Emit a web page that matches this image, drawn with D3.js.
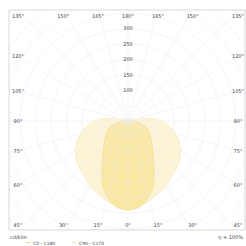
<!DOCTYPE html>
<html>
<head>
<meta charset="utf-8">
<script src="https://cdn.jsdelivr.net/npm/d3@7"></script>
<style>
  html, body { margin: 0; padding: 0; background: #fff; }
  svg { display: block; font-family: "DejaVu Sans", sans-serif; }
</style>
</head>
<body>
<div id="chart"></div>
<script>
// gamma angles (0 = straight down), cd/klm per half plane
var gammas = d3.range(0, 185, 5);
var c0   = [290, 286, 276, 257, 234, 200, 168, 142, 124, 110, 99, 89, 80, 72, 63, 52, 38, 22, 6,
            0, 0, 0, 0, 0, 0, 0, 0, 0, 0, 0, 0, 0, 0, 0, 0, 0, 0];
var c180 = [290, 286, 276, 257, 234, 200, 168, 142, 124, 110, 99, 89, 80, 72, 63, 52, 38, 22, 6,
            0, 0, 0, 0, 0, 0, 0, 0, 0, 0, 0, 0, 0, 0, 0, 0, 0, 0];
var c90  = [280, 279, 275, 268, 260, 252, 245, 235, 226, 220, 214, 206, 197, 186, 174, 160, 145, 128, 110,
            80, 40, 0, 0, 0, 0, 0, 0, 0, 0, 0, 0, 0, 0, 0, 0, 0, 0];
var c270 = [280, 279, 275, 268, 260, 252, 245, 235, 226, 220, 214, 206, 197, 186, 174, 160, 145, 128, 110,
            80, 40, 0, 0, 0, 0, 0, 0, 0, 0, 0, 0, 0, 0, 0, 0, 0, 0];
var ringValues = [50, 100, 150, 200, 250, 300, 350, 400, 450, 500];
var ringLabels = [100, 150, 200, 250, 300];
var labelAngles = d3.range(0, 360, 15);

var W = 246, H = 246;
var cx = 128, cy = 121;
var frame = {x: 9, y: 10, w: 236, h: 220};

var svg = d3.select("#chart").append("svg")
  .attr("width", W).attr("height", H);

svg.append("defs").append("clipPath").attr("id", "clip")
  .append("rect")
  .attr("x", frame.x).attr("y", frame.y)
  .attr("width", frame.w).attr("height", frame.h);

var r = d3.scaleLinear().domain([0, 350]).range([0, 107.8]);

var plot = svg.append("g")
  .attr("transform", "translate(" + cx + "," + cy + ")");
var grid = svg.append("g").attr("clip-path", "url(#clip)")
  .append("g").attr("transform", "translate(" + cx + "," + cy + ")");

// rings
grid.selectAll("circle.ring").data(ringValues).enter().append("circle")
  .attr("class", "ring")
  .attr("r", d => r(d))
  .attr("fill", "none")
  .attr("stroke", "#ebebf2")
  .attr("stroke-width", 0.5);

// radial lines
grid.selectAll("line.ray").data(labelAngles).enter().append("line")
  .attr("class", "ray")
  .attr("x1", 0).attr("y1", 0)
  .attr("x2", d => 200 * Math.sin(d * Math.PI / 180))
  .attr("y2", d => 200 * Math.cos(d * Math.PI / 180))
  .attr("stroke", "#ebebf2")
  .attr("stroke-width", 0.5);

// curves: right half uses angle PI - g, left half PI + g
function curvePoints(right, left) {
  var pts = [];
  gammas.forEach(function (g, i) {
    pts.push([Math.PI - g * Math.PI / 180, r(right[i])]);
  });
  gammas.slice().reverse().forEach(function (g, j) {
    var i = gammas.length - 1 - j;
    pts.push([Math.PI + g * Math.PI / 180, r(left[i])]);
  });
  return pts;
}
var radial = d3.lineRadial().curve(d3.curveCatmullRomClosed.alpha(0.5));

plot.append("path")
  .attr("d", radial(curvePoints(c90, c270)))
  .attr("fill", "#fdf4d6")
  .attr("stroke", "#f5e6b4")
  .attr("stroke-width", 0.6);

plot.append("path")
  .attr("d", radial(curvePoints(c0, c180)))
  .attr("fill", "#f9e8a4")
  .attr("stroke", "#f0d98a")
  .attr("stroke-width", 0.6);

// frame
svg.append("rect")
  .attr("x", frame.x).attr("y", frame.y)
  .attr("width", frame.w).attr("height", frame.h)
  .attr("fill", "none")
  .attr("stroke", "#cfcfcf")
  .attr("stroke-width", 0.8);

// angle labels on the frame
function labelPos(d) {
  var a = d * Math.PI / 180, dx = Math.sin(a), dy = Math.cos(a);
  var t = Math.min(112 / Math.max(Math.abs(dx), 1e-6), 112 / Math.max(Math.abs(dy), 1e-6));
  return [cx + Math.max(-110, Math.min(110, t * dx)), cy + Math.max(-105, Math.min(104, t * dy))];
}
svg.append("g").selectAll("text").data(labelAngles).enter().append("text")
  .attr("x", d => labelPos(d)[0])
  .attr("y", d => labelPos(d)[1] + 1.8)
  .attr("text-anchor", "middle")
  .attr("font-size", 5)
  .attr("fill", "#444")
  .text(d => (d > 180 ? 360 - d : d) + "°");

// intensity labels
svg.append("g").selectAll("text").data(ringLabels).enter().append("text")
  .attr("x", cx)
  .attr("y", d => cy - r(d) + 1.8)
  .attr("text-anchor", "middle")
  .attr("font-size", 5)
  .attr("fill", "#444")
  .text(d => d);

// footer
svg.append("text").attr("x", 10).attr("y", 239)
  .attr("font-size", 5).attr("fill", "#444").text("cd/klm");
svg.append("text").attr("x", 243).attr("y", 239)
  .attr("text-anchor", "end")
  .attr("font-size", 5).attr("fill", "#444").text("η = 100%");

var legend = [{name: "C0 - C180", x: 26, color: "#f0d98a"}, {name: "C90 - C270", x: 72, color: "#f5e6b4"}];
var lg = svg.append("g").selectAll("g").data(legend).enter().append("g");
lg.append("line")
  .attr("x1", d => d.x).attr("x2", d => d.x + 5)
  .attr("y1", 242.5).attr("y2", 242.5)
  .attr("stroke", d => d.color).attr("stroke-width", 1);
lg.append("text")
  .attr("x", d => d.x + 7).attr("y", 244.5)
  .attr("font-size", 4.5).attr("fill", "#444")
  .text(d => d.name);
</script>
</body>
</html>
